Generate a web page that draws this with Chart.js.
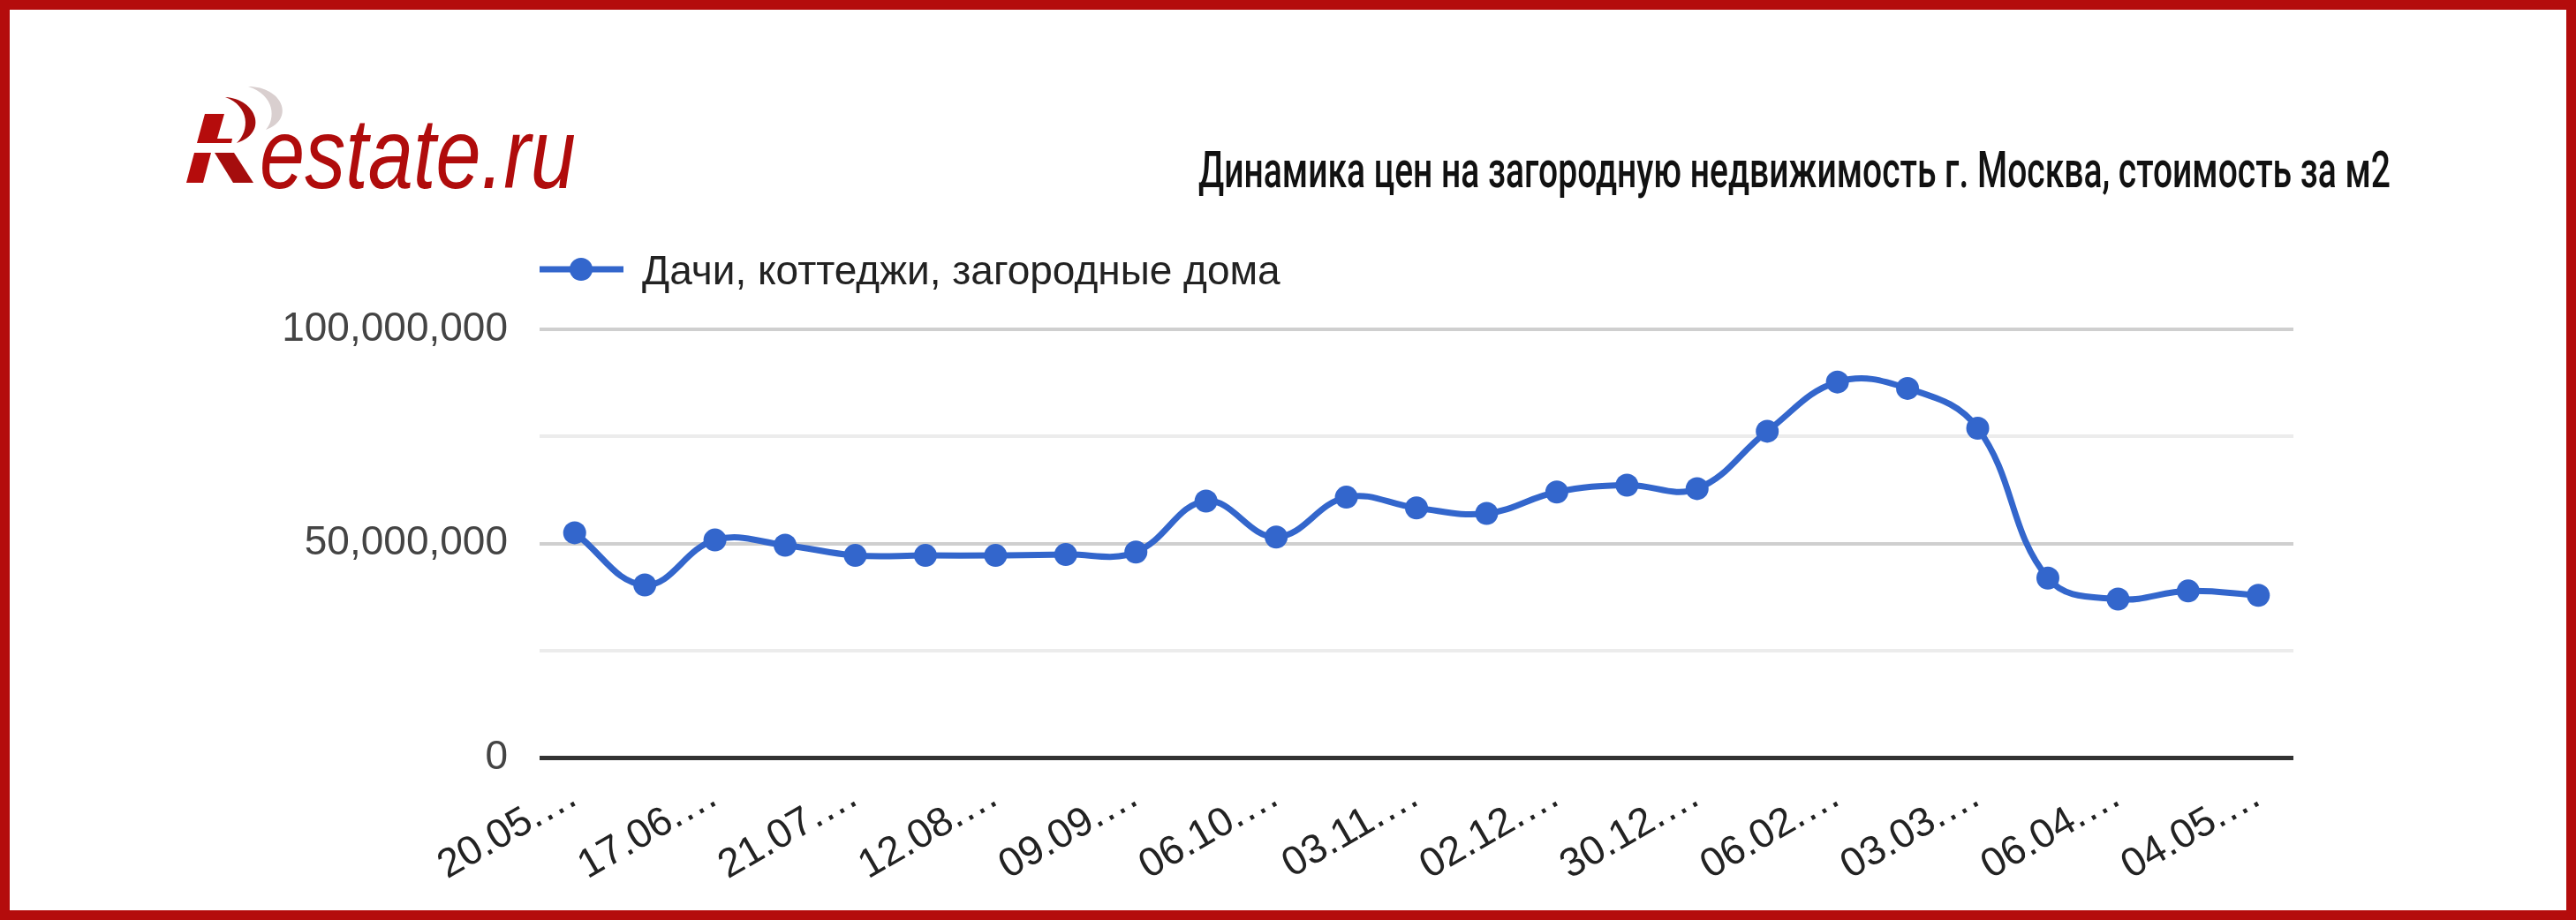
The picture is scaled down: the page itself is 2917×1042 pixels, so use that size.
<!DOCTYPE html>
<html>
<head>
<meta charset="utf-8">
<script src="https://cdn.jsdelivr.net/npm/chart.js@4"></script>
<style>
  html, body { margin: 0; padding: 0; background: #fff; }
  #wrap { position: relative; width: 2917px; height: 1042px; background: #fff; overflow: hidden; }
  #chart { position: absolute; left: 0; top: 0; }
  #head { position: absolute; left: 0; top: 0; }
  #frame { position: absolute; left: 0; top: 0; width: 2917px; height: 1042px; box-sizing: border-box;
           border: 11px solid #b40c0c; pointer-events: none; }
</style>
</head>
<body>
<div id="wrap">
  <canvas id="chart" width="2917" height="1042"></canvas>
  <svg id="head" width="2917" height="1042" xmlns="http://www.w3.org/2000/svg">
    <!-- логотип -->
    <path d="M281,98 C320,98 335,135 301,147 C312,135 312,108 281,98 Z" fill="#d9cfcf"/>
    <path d="M255,110 C290,112 305,150 268,162 C283,148 283,120 255,110 Z" fill="#a50d0d"/>
    <polygon points="232,129 254,129 246,157 263,157 262,162 223,162" fill="#b50c0c"/>
    <polygon points="220,173 239,173 230,207 211,207" fill="#b50c0c"/>
    <polygon points="243,173 265,173 287,207 264,207" fill="#a50d0d"/>
    <text x="294" y="213" font-family="Liberation Sans, Arial, sans-serif" font-style="italic"
          font-size="114" fill="#b00c0c" textLength="358" lengthAdjust="spacingAndGlyphs">estate.ru</text>
    <!-- заголовок -->
    <text x="1357" y="212" font-family="Roboto, Liberation Sans, sans-serif" font-weight="500"
          font-size="57" fill="#111" textLength="1350" lengthAdjust="spacingAndGlyphs">Динамика цен на загородную недвижимость г. Москва, стоимость за м2</text>
  </svg>
  <div id="frame"></div>
</div>
<script>
// даты (подписи оси X обрезаны, как на графике)
var dates = ['20.05.…', '03.06.…', '17.06.…', '01.07.…', '21.07.…', '29.07.…', '12.08.…', '26.08.…',
             '09.09.…', '23.09.…', '06.10.…', '20.10.…', '03.11.…', '17.11.…', '02.12.…', '16.12.…',
             '30.12.…', '20.01.…', '06.02.…', '17.02.…', '03.03.…', '17.03.…', '06.04.…', '20.04.…', '04.05.…'];
var seriesName = 'Дачи, коттеджи, загородные дома';
var prices = [52500000, 40300000, 50800000, 49600000, 47200000, 47200000, 47200000, 47400000,
              48000000, 59900000, 51500000, 60800000, 58300000, 57000000, 62000000, 63600000,
              62800000, 76200000, 87700000, 86200000, 76900000, 41900000, 37000000, 38900000, 37900000];
var yTicks = [0, 50000000, 100000000];

var font = "'Liberation Sans', Arial, sans-serif";
var blue = '#3366cc';

// легенда в стиле Google: линия с точкой
var legendPlugin = {
    id: 'gLegend',
    afterDraw: function (chart) {
        var c = chart.ctx;
        var x0 = chart.chartArea.left;
        var y = 305;
        c.save();
        c.strokeStyle = blue;
        c.lineWidth = 7;
        c.beginPath();
        c.moveTo(x0, y);
        c.lineTo(x0 + 95, y);
        c.stroke();
        c.fillStyle = blue;
        c.beginPath();
        c.arc(x0 + 47, y, 13, 0, Math.PI * 2);
        c.fill();
        c.fillStyle = '#222';
        c.font = '46px ' + font;
        c.textBaseline = 'alphabetic';
        c.fillText(chart.data.datasets[0].label, x0 + 116, 322);
        c.restore();
    }
};

var ctx = document.getElementById('chart').getContext('2d');
var chart = new Chart(ctx, {
    type: 'line',
    data: {
        labels: dates,
        datasets: [{
            label: seriesName,
            data: prices,
            borderColor: blue,
            backgroundColor: blue,
            borderWidth: 7,
            tension: 0.4,
            pointRadius: 13,
            pointHoverRadius: 13,
            pointBorderWidth: 0,
            pointBackgroundColor: blue
        }]
    },
    options: {
        responsive: false,
        animation: false,
        layout: { padding: { top: 373, right: 320, bottom: 0, left: 0 } },
        plugins: {
            legend: { display: false },
            title: { display: false },
            tooltip: { enabled: false }
        },
        scales: {
            x: {
                offset: true,
                afterFit: function (s) { s.height = 184; },
                grid: { display: false, drawTicks: false },
                border: { display: false },
                ticks: {
                    autoSkip: false,
                    minRotation: 30,
                    maxRotation: 30,
                    padding: 16,
                    color: '#222',
                    font: { family: font, size: 46 },
                    callback: function (v, i) { return i % 2 === 0 ? this.getLabelForValue(v) : ''; }
                }
            },
            y: {
                min: 0,
                max: 100000000,
                afterFit: function (s) { s.width = 611; },
                border: { display: false },
                grid: {
                    drawTicks: false,
                    color: function (c) {
                        if (c.tick.value === 0) return '#333333';
                        return yTicks.indexOf(c.tick.value) >= 0 ? '#cfcfcf' : '#ececec';
                    },
                    lineWidth: function (c) { return c.tick.value === 0 ? 5 : 4; }
                },
                ticks: {
                    stepSize: 25000000,
                    padding: 36,
                    color: '#444',
                    font: { family: font, size: 46 },
                    callback: function (v) { return yTicks.indexOf(v) >= 0 ? v.toLocaleString('en-US') : ''; }
                }
            }
        }
    },
    plugins: [legendPlugin]
});
</script>
</body>
</html>
